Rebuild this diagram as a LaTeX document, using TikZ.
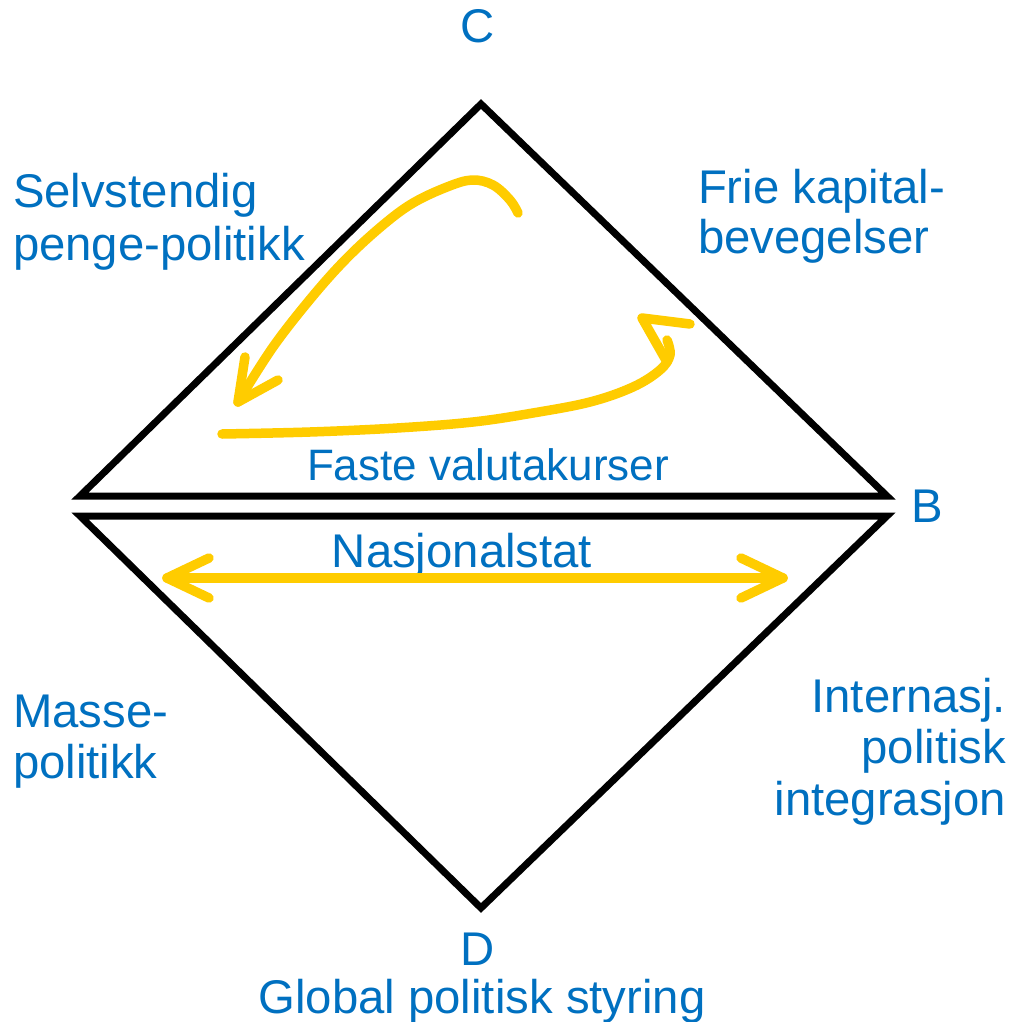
\documentclass[tikz,border=0pt]{standalone}
\usepackage{fontspec}
\setmainfont{Liberation Sans}
\definecolor{txtblue}{HTML}{0070C0}
\definecolor{ylw}{HTML}{FFCC00}
\begin{document}
\begin{tikzpicture}[x=1pt,y=-1pt,
  lbl/.style={inner sep=0pt, outer sep=0pt, text=txtblue, font=\fontsize{47.3}{52}\selectfont},
  lblsmall/.style={lbl, font=\fontsize{44}{48}\selectfont},
  tri/.style={draw=black, line width=7pt, line join=miter},
  ylwline/.style={draw=ylw, line width=9.5pt, line cap=round, line join=round}]
\fill[white] (0,0) rectangle (1015,1022);
\useasboundingbox (0,0) rectangle (1015,1022);
% triangle corners
\coordinate (Ctop) at (481,104);
\coordinate (UL) at (80,496);
\coordinate (UR) at (887,496);
\coordinate (LL) at (80,516);
\coordinate (LR) at (887,516);
\coordinate (Dbot) at (481,908);
\draw[tri] (Ctop) -- (UL) -- (UR) -- cycle;
\draw[tri] (LL) -- (LR) -- (Dbot) -- cycle;
% labels
\node[lbl, anchor=base] (c) at (478,43) {C};
\node[lbl, anchor=base] (b) at (927,522) {B};
\node[lbl, anchor=base] (d) at (478,965) {D};
\node[lbl, anchor=base] (glob) at (482,1013) {Global politisk styring};
\node[lbl, anchor=base west] (selv1) at (13,207) {Selvstendig};
\node[lbl, anchor=base west] (selv2) at (13,260) {penge-politikk};
\node[lbl, anchor=base west] (frie1) at (698,203) {Frie kapital-};
\node[lbl, anchor=base west] (frie2) at (698,253) {bevegelser};
\node[lbl, anchor=base west] (masse1) at (13,727) {Masse-};
\node[lbl, anchor=base west] (masse2) at (13,778) {politikk};
\node[lbl, anchor=base east] (int1) at (1006,712) {Internasj.};
\node[lbl, anchor=base east] (int2) at (1006,763) {politisk};
\node[lbl, anchor=base east] (int3) at (1006,815) {integrasjon};
\node[lblsmall, anchor=base] (faste) at (488,480) {Faste valutakurser};
\node[lbl, anchor=base] (nasj) at (462,567) {Nasjonalstat};
% yellow curve 1 (arrow to lower left)
\coordinate (t1) at (238,402);
\draw[ylwline] plot[smooth, tension=0.6] coordinates {(518,213) (510,200) (493,185) (472,180) (447,187) (413,203) (383,225) (347,258) (312,297) (273,347) (238,402)};
\draw[ylwline] (245,357) -- (t1) -- (278,380);
% yellow curve 2 (arrow to upper left)
\coordinate (t2) at (642,318);
\draw[ylwline] plot[smooth, tension=0.6] coordinates {(222,434) (310,432) (397,428) (473,422) (533,413) (590,402) (633,387) (660,370) (670,355) (667,340)};
\draw[ylwline] (667,362) -- (t2) -- (690,324);
% double arrow
\coordinate (al) at (167,578);
\coordinate (ar) at (783,578);
\draw[ylwline] (al) -- (ar);
\draw[ylwline] (209,558) -- (al) -- (209,598);
\draw[ylwline] (741,558) -- (ar) -- (741,598);
\end{tikzpicture}
\end{document}
